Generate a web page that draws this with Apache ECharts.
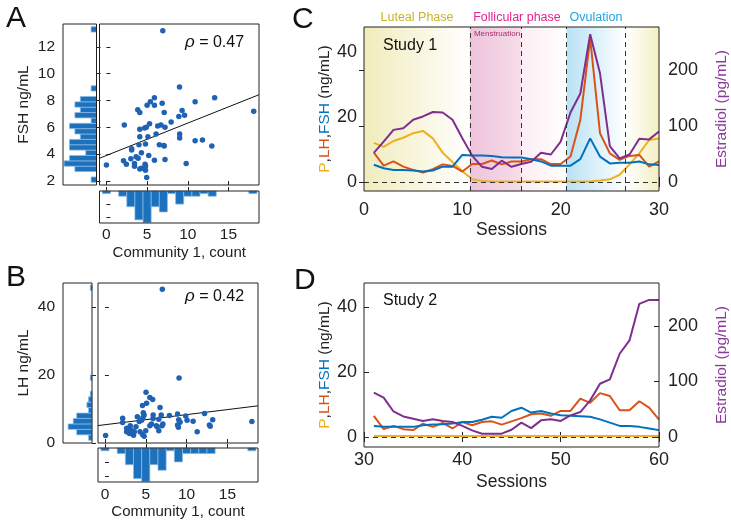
<!DOCTYPE html>
<html><head><meta charset="utf-8">
<script src="https://cdn.jsdelivr.net/npm/echarts@6/dist/echarts.min.js"></script>
<style>html,body{margin:0;padding:0;background:#fff}#c{width:731px;height:521px}</style>
</head><body><div id="c"></div>
<script>
// ---------------- DATA ----------------
// Panel A: Community 1 count vs FSH
const commA = [6.93,8.98,13.3,10.9,18.1,5.9,5.4,5.0,5.9,6.85,3.85,4.1,7.1,9.3,9.6,8.9,2.2,5.3,6.3,6.7,7.2,7.95,4.7,4.9,4.1,4.1,5.1,6.1,9.0,9.0,10.9,11.8,12.95,6.5,7.1,7.05,4.8,4.0,3.1,3.1,4.3,5.2,3.65,3.9,3.0,5.9,7.2,2.1,2.45,3.45,3.45,4.75,4.8,4.1,4.3,4.8,4.95,9.8,0.0];
const fshA  = [13.2,9.0,8.2,7.9,7.2,8.2,7.9,7.65,7.65,7.8,7.3,7.1,7.1,7.25,6.9,6.8,6.17,6.27,6.1,6.17,6.0,6.4,5.95,6.0,5.85,5.3,5.3,5.5,5.5,5.2,5.0,5.05,4.6,4.7,4.6,4.65,4.75,4.7,4.4,4.3,4.1,3.9,3.8,3.7,3.65,3.55,3.6,3.5,3.25,3.3,3.1,3.25,3.1,2.9,2.95,2.8,2.25,3.3,3.2];
const fitA = {intercept: 3.9, slope: 0.2415};
const rhoA = '0.47';
// FSH histogram (bin width 0.4)
const fshBinWidth = 0.4;
const fshBinCenters = [2.1,2.9,3.3,3.7,4.1,4.5,4.9,5.3,5.7,6.1,6.5,6.9,7.3,7.7,8.1,8.9,13.3];
const fshBinCounts  = [1,4,6,5,2,5,5,3,4,5,1,4,3,4,3,1,1];
// Community histograms (bin width 1)
const commBinWidth = 1;
const commBinCenters = [0,2,3,4,5,6,7,8,9,10,11,12,13,18];
const commBinCountsA = [1,2,6,11,12,6,8,1,5,2,2,1,2,1];
const commBinCountsB = [1,2,6,11,12,6,8,1,5,2,2,2,2,1];

// Panel B: Community 1 count vs LH
const commB = [7.03,9.08,5.03,5.5,5.85,5.1,4.6,6.75,4.7,5.9,6.9,7.9,8.9,9.9,3.97,2.17,2.17,4.66,5.9,6.6,9.04,10.06,10.8,12.8,18.0,8.9,6.4,0.08,2.66,2.66,3.0,3.1,3.2,3.5,3.6,3.8,4.2,4.3,4.5,4.8,4.6,4.8,5.0,5.5,5.7,6.3,6.6,7.0,7.1,9.0,9.2,11.3,12.2,12.9,13.2];
const lhB   = [45.2,19.1,14.9,13.4,12.8,11.7,11.0,10.4,8.9,8.2,8.2,8.1,8.5,7.9,7.7,7.3,6.0,7.5,7.2,7.0,6.8,6.7,6.4,5.3,6.3,5.3,4.8,2.2,4.3,3.3,2.8,5.1,3.8,2.3,3.3,4.8,6.3,3.3,6.7,8.2,2.5,2.0,3.6,5.1,5.6,5.1,3.6,5.1,5.6,4.6,6.1,3.3,8.7,4.9,6.8];
const fitB = {intercept: 5.37, slope: 0.296};
const rhoB = '0.42';
// LH histogram (bin width 1.6)
const lhBinWidth = 1.6;
const lhBinCenters = [1.6,3.2,4.8,6.4,8.0,9.6,11.2,12.8,14.4,19.2,45.6];
const lhBinCounts  = [2,9,14,11,9,2,3,2,1,1,1];

// Panel C: Study 1, sessions 1-30
const sessions1 = [1,2,3,4,5,6,7,8,9,10,11,12,13,14,15,16,17,18,19,20,21,22,23,24,25,26,27,28,29,30];
const P1   = [12.0,10.8,12.6,13.6,15.0,15.7,13.4,9.0,6.1,3.3,0.8,0.3,0.1,0.1,0.1,0.1,0.1,0.1,0.1,0.1,0.1,0.1,0.1,0.4,0.8,2.2,5.4,8.8,12.9,13.4];
const LH1  = [9.0,5.0,6.3,4.7,3.7,2.9,3.9,5.4,4.9,3.2,5.5,5.5,6.6,5.4,6.3,6.3,7.0,7.0,5.5,5.5,7.8,19.1,44.2,15.0,8.8,6.8,8.0,8.3,4.7,6.3];
const FSH1 = [5.3,4.2,3.7,3.7,3.5,3.2,3.5,4.7,4.7,8.3,8.1,8.1,8.0,7.6,7.5,7.5,7.0,6.3,5.0,5.0,5.0,7.0,13.4,7.8,5.7,5.9,5.9,6.3,5.4,5.2];
const E1   = [52,72,93,96,111,117,125,124,111,78,47,27,23,38,27,32,36,52,49,72,124,158,264,194,64,42,49,77,76,90];
const phaseBounds = [10.76, 16, 20.6, 26.6];
const phaseNames = ['Luteal Phase','Follicular phase','Ovulation'];

// Panel D: Study 2, sessions 31-60
const sessions2 = [31,32,33,34,35,36,37,38,39,40,41,42,43,44,45,46,47,48,49,50,51,52,53,54,55,56,57,58,59,60];
const P2   = [0.3,0.3,0.3,0.3,0.3,0.3,0.3,0.3,0.3,0.3,0.3,0.3,0.3,0.3,0.3,0.3,0.3,0.3,0.3,0.3,0.3,0.3,0.3,0.3,0.3,0.3,0.3,0.3,0.3,0.3];
const LH2  = [6.5,2.4,3.4,2.4,2.1,4.1,3.1,4.3,2.6,4.6,3.6,4.6,4.8,3.8,4.8,5.8,7.0,7.2,6.5,8.0,8.0,11.8,10.5,13.5,12.6,8.2,8.2,11.0,9.0,5.3];
const FSH2 = [3.4,3.1,3.1,3.1,3.1,3.6,3.8,3.9,4.1,4.6,4.6,5.3,6.2,5.9,8.0,9.0,7.5,8.0,7.2,6.7,6.5,6.4,6.2,5.4,4.4,3.4,3.4,3.1,2.6,2.1];
const E2   = [80,71,46,37,33,29,32,29,27,20,12,6,6,6,13,26,16,30,32,29,39,45,66,96,104,150,174,240,247,247];

// ---------------- STYLE ----------------
const FONT = "'Liberation Sans', Arial, Helvetica, sans-serif";
const INK = '#222';
const DOT = '#1f62b3';
const HIST = '#1c71bd';
const cP = '#EDB120', cLH = '#D95319', cFSH = '#0072BD', cE = '#7E2F8E';
const XMIN = -0.85, XMAX = 18.75;

const zip = (a, b) => a.map((v, i) => [v, b[i]]);

function ax(gridIndex, min, max, extra) {
  return Object.assign({type:'value', gridIndex, min, max,
    axisLine:{show:false}, splitLine:{show:false}, axisTick:{show:false}, axisLabel:{show:false}}, extra || {});
}
function ticks(vals, len) { const t = {show:true, inside:true, length:len || 4, lineStyle:{color:INK, width:1}}; if (vals) t.customValues = vals; return t; }
function labels(vals, margin, fs) { const l = {show:true, fontSize:fs || 15.5, color:INK, fontFamily:FONT, margin:margin}; if (vals) l.customValues = vals; return l; }
const nameStyle = (fs, color) => ({fontSize:fs, color:color || INK, fontFamily:FONT});
const gridBox = (l, t, w, h) => ({left:l, top:t, width:w, height:h, show:true, borderColor:INK, borderWidth:1, backgroundColor:'transparent', z:10});

function hBarsLeft(binW) {
  return function (params, api) {
    const n = api.value(0), c = api.value(1);
    const a = api.coord([0, c - binW / 2]), b = api.coord([n, c + binW / 2]);
    return {type:'rect', shape:{x:Math.min(a[0], b[0]), y:Math.min(a[1], b[1]), width:Math.abs(a[0] - b[0]), height:Math.abs(a[1] - b[1])},
      style:{fill:HIST, stroke:'#8fbbe4', lineWidth:0.7}};
  };
}
function vBarsDown(binW) {
  return function (params, api) {
    const c = api.value(0), n = api.value(1);
    const a = api.coord([c - binW / 2, 0]), b = api.coord([c + binW / 2, n]);
    return {type:'rect', shape:{x:Math.min(a[0], b[0]), y:Math.min(a[1], b[1]), width:Math.abs(a[0] - b[0]), height:Math.abs(a[1] - b[1])},
      style:{fill:HIST, stroke:'#8fbbe4', lineWidth:0.7}};
  };
}
function fitLine(fit, xi, yi) {
  return {type:'line', xAxisIndex:xi, yAxisIndex:yi, showSymbol:false, silent:true, z:3,
    lineStyle:{color:'#111', width:1},
    data:[[XMIN, fit.intercept + fit.slope * XMIN], [XMAX, fit.intercept + fit.slope * XMAX]]};
}
function hormoneLine(x, y, color, xi, yi, extra) {
  return Object.assign({type:'line', xAxisIndex:xi, yAxisIndex:yi, data:zip(x, y), showSymbol:false, silent:true,
    lineStyle:{color:color, width:2}, itemStyle:{color:color}}, extra || {});
}
const grad = (c0, c1) => new echarts.graphic.LinearGradient(0, 0, 1, 0, [{offset:0, color:c0}, {offset:1, color:c1}]);
const richName = {fontSize:15.5, color:INK, fontFamily:FONT, rich:{
  p:{color:cP, fontSize:15.5, fontFamily:FONT}, lh:{color:cLH, fontSize:15.5, fontFamily:FONT}, f:{color:cFSH, fontSize:15.5, fontFamily:FONT}}};
const txt = (o) => Object.assign({type:'text', z:100, silent:true}, o);

const fshTicks = [2,4,6,8,10,12];
const commTicks = [0,5,10,15];

const option = {
  animation:false,
  backgroundColor:'#fff',
  textStyle:{fontFamily:FONT},
  grid:[
    gridBox(63, 24, 33.5, 161),
    gridBox(99.5, 24, 159.5, 161),
    gridBox(99.5, 191, 159.5, 32),
    gridBox(63, 283, 29, 160),
    gridBox(98, 283, 160, 160),
    gridBox(98, 448, 160, 34),
    gridBox(364, 27, 295, 164),
    gridBox(364, 283, 295, 164)
  ],
  xAxis:[
    ax(0, 0, 6.2, {inverse:true}),
    ax(1, XMIN, XMAX, {axisTick:ticks(commTicks)}),
    ax(2, XMIN, XMAX, {axisTick:ticks(commTicks), axisLabel:labels(commTicks, 4),
      name:'Community 1, count', nameLocation:'middle', nameGap:22.5, nameTextStyle:nameStyle(15)}),
    ax(3, 0, 17, {inverse:true}),
    ax(4, XMIN, XMAX, {axisTick:ticks(commTicks)}),
    ax(5, XMIN, XMAX, {axisTick:ticks(commTicks), axisLabel:labels(commTicks, 5),
      name:'Community 1, count', nameLocation:'middle', nameGap:20.5, nameTextStyle:nameStyle(15)}),
    ax(6, 0, 30, {interval:10, axisTick:ticks(null, 5), axisLabel:labels(null, 10, 18),
      name:'Sessions', nameLocation:'middle', nameGap:30, nameTextStyle:nameStyle(17.5)}),
    ax(6, 0, 30, {interval:10, position:'top', axisTick:ticks(null, 5)}),
    ax(7, 30, 60, {interval:10, axisTick:ticks(null, 5), axisLabel:labels(null, 4, 18),
      name:'Sessions', nameLocation:'middle', nameGap:26, nameTextStyle:nameStyle(17.5)}),
    ax(7, 30, 60, {interval:10, position:'top', axisTick:ticks(null, 5)})
  ],
  yAxis:[
    ax(0, 1.7, 13.7, {axisTick:ticks(fshTicks), axisLabel:labels(fshTicks, 8),
      name:'FSH ng/mL', nameLocation:'middle', nameGap:31, nameRotate:90, nameTextStyle:nameStyle(15.5)}),
    ax(1, 1.7, 13.7, {axisTick:ticks(fshTicks)}),
    ax(2, 0, 12.2, {inverse:true, axisTick:ticks([5,10])}),
    ax(3, 0, 47, {axisTick:ticks([0,20,40]), axisLabel:labels([0,20,40], 8),
      name:'LH ng/mL', nameLocation:'middle', nameGap:31, nameRotate:90, nameTextStyle:nameStyle(15.5)}),
    ax(4, 0, 47, {axisTick:ticks([20,40])}),
    ax(5, 0, 12.2, {inverse:true, axisTick:ticks([5,10])}),
    ax(6, -2.8, 47.7, {position:'left', axisTick:ticks([0,20,40], 5), axisLabel:labels([0,20,40], 7, 18),
      name:'{p|P},{lh|LH},{f|FSH} (ng/mL)', nameLocation:'middle', nameGap:30, nameRotate:90, nameTextStyle:richName}),
    ax(6, -16.2, 276.8, {position:'right', axisTick:ticks([0,100,200], 5), axisLabel:labels([0,100,200], 9, 18),
      name:'Estradiol (pg/mL)', nameLocation:'middle', nameGap:55, nameRotate:90, nameTextStyle:nameStyle(15.5, '#8a3a9a')}),
    ax(7, -3.1, 47.4, {position:'left', axisTick:ticks([0,20,40], 5), axisLabel:labels([0,20,40], 7, 18),
      name:'{p|P},{lh|LH},{f|FSH} (ng/mL)', nameLocation:'middle', nameGap:30, nameRotate:90, nameTextStyle:richName}),
    ax(7, -18, 277.5, {position:'right', axisTick:ticks([0,100,200], 5), axisLabel:labels([0,100,200], 9, 18),
      name:'Estradiol (pg/mL)', nameLocation:'middle', nameGap:55, nameRotate:90, nameTextStyle:nameStyle(15.5, '#8a3a9a')})
  ],
  series:[
    // Panel A
    {type:'custom', xAxisIndex:0, yAxisIndex:0, renderItem:hBarsLeft(fshBinWidth), data:zip(fshBinCounts, fshBinCenters), silent:true},
    {type:'scatter', xAxisIndex:1, yAxisIndex:1, data:zip(commA, fshA), symbolSize:5.5, itemStyle:{color:DOT, opacity:1}, silent:true, z:4},
    fitLine(fitA, 1, 1),
    {type:'custom', xAxisIndex:2, yAxisIndex:2, renderItem:vBarsDown(commBinWidth), data:zip(commBinCenters, commBinCountsA), silent:true},
    // Panel B
    {type:'custom', xAxisIndex:3, yAxisIndex:3, renderItem:hBarsLeft(lhBinWidth), data:zip(lhBinCounts, lhBinCenters), silent:true},
    {type:'scatter', xAxisIndex:4, yAxisIndex:4, data:zip(commB, lhB), symbolSize:5.5, itemStyle:{color:DOT, opacity:1}, silent:true, z:4},
    fitLine(fitB, 4, 4),
    {type:'custom', xAxisIndex:5, yAxisIndex:5, renderItem:vBarsDown(commBinWidth), data:zip(commBinCenters, commBinCountsB), silent:true},
    // Panel C
    hormoneLine(sessions1, P1, cP, 6, 6, {
      markArea:{silent:true, label:{show:false}, data:[
        [{xAxis:0, itemStyle:{color:grad('#f1ecbc', '#ffffff')}}, {xAxis:phaseBounds[0]}],
        [{xAxis:phaseBounds[0], itemStyle:{color:grad('#eec3db', '#f6dde9')}}, {xAxis:phaseBounds[1]}],
        [{xAxis:phaseBounds[1], itemStyle:{color:grad('#fcedf4', '#ffffff')}}, {xAxis:phaseBounds[2]}],
        [{xAxis:phaseBounds[2], itemStyle:{color:grad('#b9e1f5', '#ffffff')}}, {xAxis:phaseBounds[3]}],
        [{xAxis:phaseBounds[3], itemStyle:{color:grad('#ffffff', '#f3efc2')}}, {xAxis:30}]
      ]},
      markLine:{silent:true, symbol:'none', label:{show:false}, lineStyle:{type:[5,4], color:'#333', width:1},
        data:[{xAxis:phaseBounds[0]}, {xAxis:phaseBounds[1]}, {xAxis:phaseBounds[2]}, {xAxis:phaseBounds[3]}, {yAxis:0}]}
    }),
    hormoneLine(sessions1, LH1, cLH, 6, 6),
    hormoneLine(sessions1, FSH1, cFSH, 6, 6),
    hormoneLine(sessions1, E1, cE, 6, 7),
    // Panel D
    hormoneLine(sessions2, P2, cP, 8, 8, {
      markLine:{silent:true, symbol:'none', label:{show:false}, lineStyle:{type:[5,4], color:'#333', width:1}, data:[{yAxis:0}]}
    }),
    hormoneLine(sessions2, LH2, cLH, 8, 8),
    hormoneLine(sessions2, FSH2, cFSH, 8, 8),
    hormoneLine(sessions2, E2, cE, 8, 9)
  ],
  graphic:[
    txt({left:6, top:4, style:{text:'A', fontSize:30, fontFamily:FONT, fill:'#111'}}),
    txt({left:6, top:263, style:{text:'B', fontSize:30, fontFamily:FONT, fill:'#111'}}),
    txt({left:292, top:5, style:{text:'C', fontSize:30, fontFamily:FONT, fill:'#111'}}),
    txt({left:294, top:266, style:{text:'D', fontSize:30, fontFamily:FONT, fill:'#111'}}),
    txt({left:185, top:34, style:{text:'{i|ρ} = ' + rhoA, fontSize:16, fontFamily:FONT, fill:'#111', rich:{i:{fontStyle:'italic', fontSize:17, fontFamily:FONT}}}}),
    txt({left:185, top:288, style:{text:'{i|ρ} = ' + rhoB, fontSize:16, fontFamily:FONT, fill:'#111', rich:{i:{fontStyle:'italic', fontSize:17, fontFamily:FONT}}}}),
    txt({left:383, top:38, style:{text:'Study 1', fontSize:16, fontFamily:FONT, fill:'#111'}}),
    txt({left:383, top:293, style:{text:'Study 2', fontSize:16, fontFamily:FONT, fill:'#111'}}),
    txt({x:417, y:18, style:{text:phaseNames[0], fontSize:12.5, fontFamily:FONT, fill:'#c8b428', align:'center', verticalAlign:'middle'}}),
    txt({x:517, y:18, style:{text:phaseNames[1], fontSize:12.5, fontFamily:FONT, fill:'#e5218d', align:'center', verticalAlign:'middle'}}),
    txt({x:596, y:18, style:{text:phaseNames[2], fontSize:12.5, fontFamily:FONT, fill:'#1ea6e0', align:'center', verticalAlign:'middle'}}),
    txt({x:497, y:34, style:{text:'Menstruation', fontSize:8, fontFamily:FONT, fill:'#a8306f', align:'center', verticalAlign:'middle'}})
  ]
};
const chart = echarts.init(document.getElementById('c'), null, {renderer:'canvas'});
chart.setOption(option);
</script>
</body></html>
